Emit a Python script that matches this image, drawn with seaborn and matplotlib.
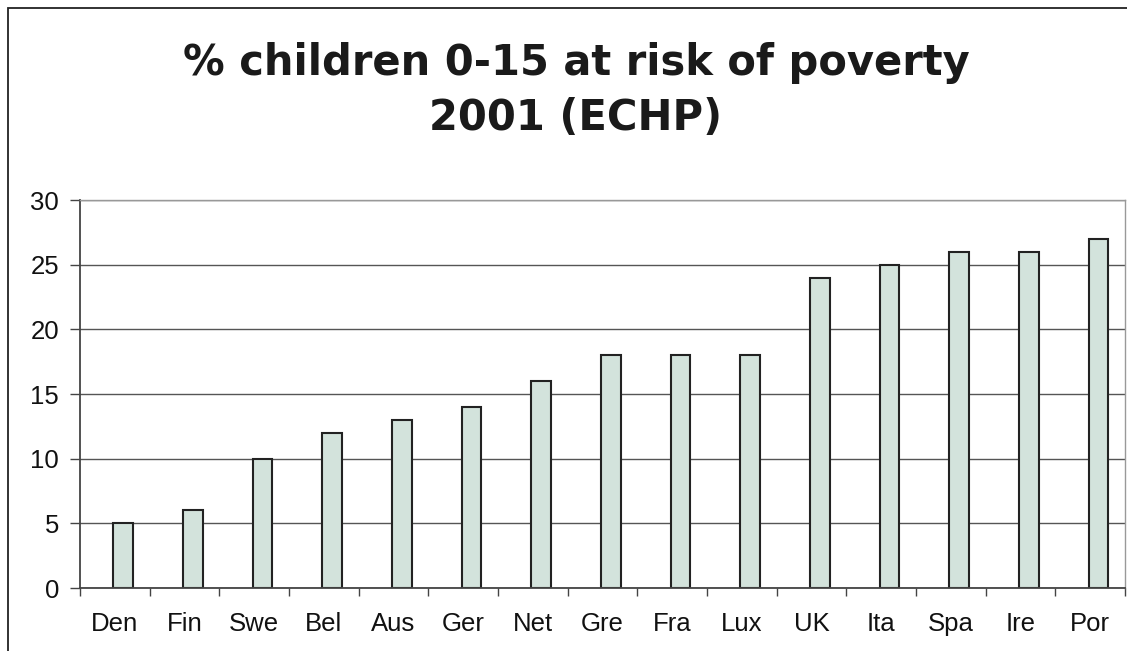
import matplotlib
matplotlib.use("Agg")
import matplotlib.pyplot as plt
import seaborn as sns
import pandas as pd
import numpy as np
from matplotlib.patches import Rectangle

countries = ["Den", "Fin", "Swe", "Bel", "Aus", "Ger", "Net", "Gre",
             "Fra", "Lux", "UK", "Ita", "Spa", "Ire", "Por"]
values = [5, 6, 10, 12, 13, 14, 16, 18, 18, 18, 24, 25, 26, 26, 27]
title_lines = ["% children 0-15 at risk of poverty", "2001 (ECHP)"]

df = pd.DataFrame({"country": countries, "pct": values})

sns.set_style("white")
plt.rcParams["font.family"] = ["Liberation Sans", "DejaVu Sans"]

fig = plt.figure(figsize=(11.27, 6.51), dpi=100)
ax = fig.add_axes([80 / 1127, 1 - 588 / 651, 1045 / 1127, 388 / 651])

sns.barplot(data=df, x="country", y="pct", color="#d3e3dc",
            saturation=1, width=0.28, edgecolor="#222222", linewidth=1.5, ax=ax)

# bars sit a little right of the category centre in the original
for p in ax.patches:
    p.set_x(p.get_x() + 0.12)

ax.set_ylim(0, 30)
ax.set_xlim(-0.5, len(countries) - 0.5)
ax.set_yticks(range(0, 31, 5))
ax.yaxis.grid(True, color="#555555", linewidth=1)
ax.set_axisbelow(True)
ax.set_xlabel("")
ax.set_ylabel("")

ax.tick_params(axis="y", labelsize=18.5, length=7, width=1, color="#444444",
               left=True, pad=8, labelcolor="#111111")
ax.tick_params(axis="x", which="major", labelsize=18.5, length=0, pad=17,
               labelcolor="#111111")
ax.set_xticks(np.arange(-0.5, len(countries), 1), minor=True)
ax.tick_params(axis="x", which="minor", length=6, width=1, color="#444444",
               bottom=True)

for side in ["left", "bottom"]:
    ax.spines[side].set_color("#444444")
    ax.spines[side].set_linewidth(1.3)
for side in ["top", "right"]:
    ax.spines[side].set_color("#999999")
    ax.spines[side].set_linewidth(1)

# two title lines, wide bold face like the original
for line, ypos in zip(title_lines, [1 - 75 / 651, 1 - 130 / 651]):
    fig.text(0.511, ypos, line, ha="center", va="baseline", fontsize=30,
             fontweight="bold", color="#1a1a1a", family="DejaVu Sans")

fig.patches.append(Rectangle((8 / 1127, -0.05), 1.1, 1 - 8 / 651 + 0.05,
                             transform=fig.transFigure, fill=False,
                             edgecolor="#222222", linewidth=1.3))

fig.savefig("out.png", dpi=100)
